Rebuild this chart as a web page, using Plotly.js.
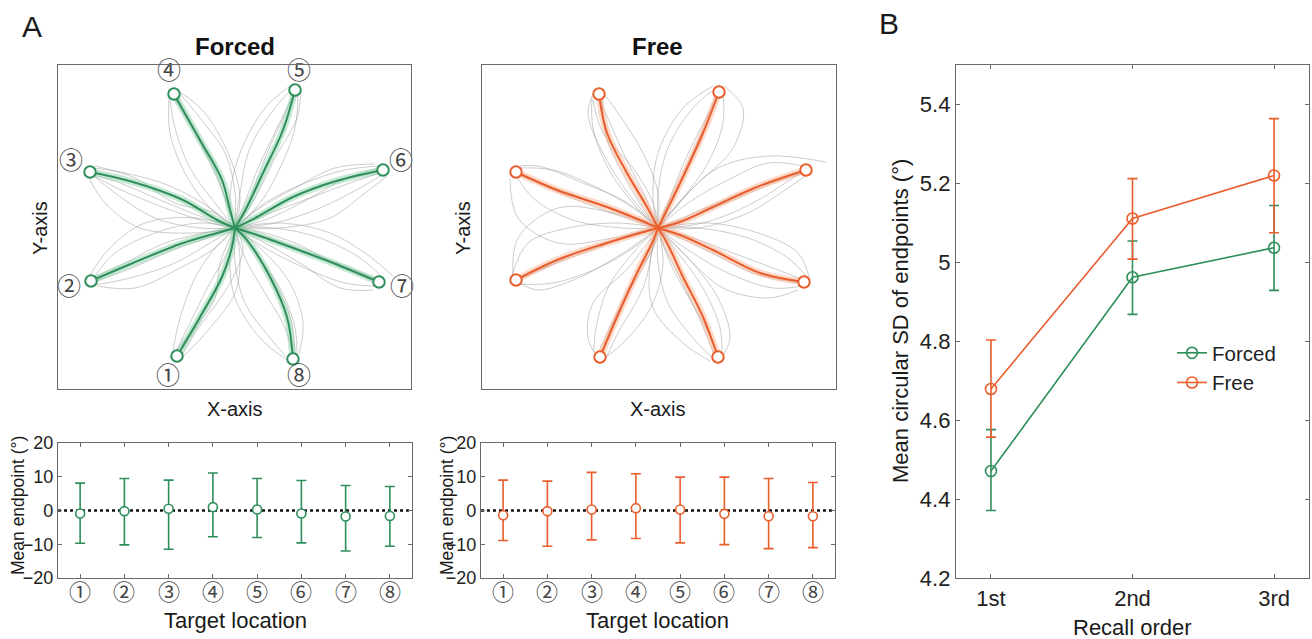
<!DOCTYPE html>
<html>
<head>
<meta charset="utf-8">
<script src="https://cdn.plot.ly/plotly-3.0.1.min.js"></script>
<style>html,body{margin:0;padding:0;background:#fff;}#chart{width:1312px;height:639px;}</style>
</head>
<body>
<div id="chart"></div>
<script>
// ---------------- DATA ----------------
const targetLabels = ['①','②','③','④','⑤','⑥','⑦','⑧'];
const targetsForced = [[-58,-128],[-144,-53],[-145,56],[-61,134],[60,138],[148,58],[144,-54],[58,-131]];
const targetsFree   = [[-58,-129],[-142,-52],[-142,56],[-59,134],[61,136],[148,58],[146,-54],[60,-129]];
const labelPosForced = [[-67,-150],[-166,-61],[-164,65],[-66,155],[64,155],[166,65],[167,-61],[64,-150]];

const meanPathsForced = [
  [[0,0],[-3,-19],[-13,-49],[-35,-89],[-58,-128]],
  [[0,0],[-18,-5],[-52,-15],[-102,-35],[-144,-53]],
  [[0,0],[-18,8],[-52,28],[-102,46],[-145,56]],
  [[0,0],[-5,18],[-13,48],[-35,88],[-61,134]],
  [[0,0],[12,21],[28,55],[48,98],[60,138]],
  [[0,0],[22,11],[58,31],[98,46],[148,58]],
  [[0,0],[22,-7],[58,-20],[98,-35],[144,-54]],
  [[0,0],[12,-12],[35,-49],[52,-89],[58,-131]]
];
const meanPathsFree = [
  [[0,0],[-6,-15],[-21,-45],[-41,-89],[-58,-129]],
  [[0,0],[-18,-5],[-51,-15],[-101,-32],[-142,-52]],
  [[0,0],[-18,8],[-51,21],[-101,38],[-142,56]],
  [[0,0],[-11,21],[-31,55],[-51,95],[-59,134]],
  [[0,0],[9,18],[25,51],[45,95],[61,136]],
  [[0,0],[22,6],[55,21],[99,41],[148,58]],
  [[0,0],[22,-7],[55,-22],[102,-45],[146,-54]],
  [[0,0],[9,-15],[25,-49],[45,-89],[60,-129]]
];

const grayPathsForced = [
  [[0,0],[-8,-25],[-25,-55],[-45,-95],[-60,-125]],
  [[0,0],[5,-30],[0,-65],[-25,-100],[-55,-132]],
  [[0,0],[-20,-20],[-40,-50],[-55,-90],[-62,-122]],
  [[0,0],[8,-20],[-5,-55],[-40,-105],[-52,-126]],
  [[0,0],[-15,-35],[-20,-70],[-40,-100],[-66,-130]],
  [[0,0],[-4,-22],[-18,-58],[-38,-98],[-57,-127]],
  [[0,0],[-30,-5],[-70,-15],[-110,-35],[-142,-50]],
  [[0,0],[-25,-15],[-60,-35],[-105,-50],[-146,-58]],
  [[0,0],[-35,5],[-80,-5],[-120,-25],[-140,-48]],
  [[0,0],[-20,-20],[-55,-40],[-100,-60],[-138,-58]],
  [[0,0],[-40,10],[-90,5],[-125,-20],[-148,-52]],
  [[0,0],[-22,-8],[-62,-22],[-108,-42],[-145,-55]],
  [[0,0],[-30,10],[-75,28],[-115,45],[-145,54]],
  [[0,0],[-35,0],[-80,10],[-120,35],[-148,58]],
  [[0,0],[-25,20],[-65,42],[-110,55],[-142,60]],
  [[0,0],[-40,-5],[-95,0],[-130,25],[-146,50]],
  [[0,0],[-20,15],[-60,25],[-100,50],[-140,62]],
  [[0,0],[-28,6],[-70,20],[-118,40],[-150,57]],
  [[0,0],[-10,30],[-25,65],[-45,105],[-62,132]],
  [[0,0],[-20,25],[-45,60],[-60,100],[-65,128]],
  [[0,0],[0,35],[-10,75],[-35,110],[-58,138]],
  [[0,0],[-25,20],[-50,55],[-65,95],[-66,130]],
  [[0,0],[5,30],[-5,70],[-30,115],[-55,136]],
  [[0,0],[-8,24],[-20,58],[-42,98],[-64,136]],
  [[0,0],[15,30],[30,70],[48,110],[60,136]],
  [[0,0],[5,35],[15,80],[40,120],[58,140]],
  [[0,0],[25,25],[45,60],[60,100],[63,135]],
  [[0,0],[-5,30],[5,75],[30,120],[55,142]],
  [[0,0],[20,30],[40,70],[62,110],[66,138]],
  [[0,0],[10,26],[24,62],[44,104],[62,140]],
  [[0,0],[35,15],[75,30],[115,45],[148,56]],
  [[0,0],[30,25],[70,45],[110,58],[145,62]],
  [[0,0],[40,5],[85,20],[125,40],[150,55]],
  [[0,0],[25,20],[60,40],[100,60],[140,64]],
  [[0,0],[45,0],[95,10],[130,35],[152,52]],
  [[0,0],[30,8],[68,26],[112,50],[146,60]],
  [[0,0],[35,-10],[75,-25],[115,-40],[144,-52]],
  [[0,0],[30,-20],[70,-40],[110,-55],[140,-58]],
  [[0,0],[40,0],[85,-10],[125,-30],[148,-50]],
  [[0,0],[30,-15],[65,-35],[105,-60],[138,-62]],
  [[0,0],[45,5],[95,-5],[130,-25],[158,-48]],
  [[0,0],[26,-4],[62,-16],[104,-38],[146,-56]],
  [[0,0],[10,-30],[30,-65],[50,-100],[58,-128]],
  [[0,0],[20,-25],[45,-60],[60,-100],[62,-130]],
  [[0,0],[0,-35],[10,-75],[35,-110],[56,-134]],
  [[0,0],[25,-20],[55,-55],[68,-95],[64,-126]],
  [[0,0],[-5,-30],[0,-70],[25,-110],[52,-132]],
  [[0,0],[14,-16],[38,-52],[56,-92],[60,-133]]
];
const grayPathsFree = [
  [[0,0],[-10,-30],[-30,-65],[-48,-100],[-60,-126]],
  [[0,0],[5,-35],[-5,-75],[-30,-110],[-56,-132]],
  [[0,0],[-25,-25],[-50,-60],[-62,-100],[-64,-124]],
  [[0,0],[-5,-20],[-15,-60],[-40,-105],[-52,-130]],
  [[0,0],[-30,-40],[-65,-75],[-70,-110],[-60,-130]],
  [[0,0],[-4,-18],[-24,-50],[-44,-92],[-58,-131]],
  [[0,0],[-30,-8],[-70,-20],[-110,-38],[-142,-50]],
  [[0,0],[-25,-20],[-60,-40],[-105,-55],[-140,-56]],
  [[0,0],[-40,5],[-90,0],[-130,-15],[-146,-48]],
  [[0,0],[-35,-25],[-80,-50],[-120,-62],[-138,-55]],
  [[0,0],[-45,15],[-100,20],[-140,-10],[-145,-50]],
  [[0,0],[-20,-4],[-56,-18],[-104,-36],[-144,-54]],
  [[0,0],[-30,12],[-70,28],[-110,42],[-142,54]],
  [[0,0],[-35,0],[-85,8],[-125,30],[-145,58]],
  [[0,0],[-25,20],[-60,40],[-105,58],[-140,60]],
  [[0,0],[-45,-10],[-100,-15],[-140,10],[-148,50]],
  [[0,0],[-30,25],[-75,45],[-120,62],[-138,62]],
  [[0,0],[-20,6],[-55,18],[-100,36],[-146,57]],
  [[0,0],[-12,30],[-30,65],[-48,105],[-60,132]],
  [[0,0],[-25,25],[-50,60],[-65,100],[-66,130]],
  [[0,0],[0,35],[-15,75],[-40,115],[-57,138]],
  [[0,0],[-30,35],[-55,75],[-70,115],[-62,140]],
  [[0,0],[-5,25],[-25,60],[-55,95],[-65,128]],
  [[0,0],[-14,18],[-34,52],[-52,92],[-56,136]],
  [[0,0],[12,30],[28,70],[48,110],[61,134]],
  [[0,0],[0,35],[10,80],[35,120],[58,140]],
  [[0,0],[25,30],[50,65],[65,105],[65,135]],
  [[0,0],[35,40],[75,80],[85,120],[66,142]],
  [[0,0],[-5,30],[0,75],[25,120],[55,142]],
  [[0,0],[6,16],[22,48],[42,92],[60,138]],
  [[0,0],[35,12],[75,28],[115,45],[148,56]],
  [[0,0],[30,25],[70,48],[110,65],[145,62]],
  [[0,0],[40,0],[90,15],[130,40],[150,54]],
  [[0,0],[25,30],[60,60],[110,72],[168,66]],
  [[0,0],[45,5],[95,25],[135,50],[152,60]],
  [[0,0],[20,8],[52,22],[96,40],[146,58]],
  [[0,0],[35,-10],[75,-25],[115,-40],[146,-52]],
  [[0,0],[30,-22],[70,-45],[115,-60],[144,-58]],
  [[0,0],[40,0],[90,-10],[130,-30],[150,-50]],
  [[0,0],[30,-30],[65,-60],[110,-70],[140,-62]],
  [[0,0],[50,5],[100,-5],[140,-25],[152,-52]],
  [[0,0],[20,-9],[52,-24],[98,-46],[148,-56]],
  [[0,0],[10,-30],[28,-65],[48,-100],[60,-127]],
  [[0,0],[20,-25],[45,-60],[62,-100],[64,-128]],
  [[0,0],[0,-35],[10,-75],[35,-110],[57,-132]],
  [[0,0],[30,-30],[60,-70],[72,-110],[62,-132]],
  [[0,0],[-8,-35],[-5,-80],[25,-115],[52,-133]],
  [[0,0],[6,-18],[22,-50],[42,-92],[58,-131]]
];

// Bottom panels: mean endpoint per target location
const targetLocations = [1,2,3,4,5,6,7,8];
const endpointForcedMean  = [-0.9,-0.2,0.5,1.0,0.3,-0.9,-1.8,-1.6];
const endpointForcedUpper = [8.1,9.5,9.0,11.1,9.5,8.9,7.4,7.1];
const endpointForcedLower = [-9.7,-10.2,-11.5,-7.8,-8.0,-9.6,-12.0,-10.6];
const endpointFreeMean  = [-1.4,-0.2,0.3,0.7,0.3,-1.0,-1.7,-1.7];
const endpointFreeUpper = [9.0,8.7,11.3,10.9,9.9,9.9,9.5,8.3];
const endpointFreeLower = [-8.9,-10.6,-8.7,-8.3,-9.6,-10.1,-11.3,-11.0];
const endpointTicks = [-20,-10,0,10,20];

// Panel B
const recallOrder = [1,2,3];
const recallLabels = ['1st','2nd','3rd'];
const sdForced = [4.471,4.962,5.037];
const sdForcedUpper = [4.576,5.054,5.144];
const sdForcedLower = [4.371,4.868,4.929];
const sdFree = [4.679,5.111,5.220];
const sdFreeUpper = [4.803,5.212,5.364];
const sdFreeLower = [4.557,5.008,5.075];
const sdTickVals = [4.2,4.4,4.6,4.8,5.0,5.2,5.4];
const sdTickText = ['4.2','4.4','4.6','4.8','5','5.2','5.4'];

// ---------------- STYLE ----------------
const GREEN = '#2f8f5b';
const ORANGE = '#ea5d2c';
const GREEN_BAND = 'rgba(130,205,160,0.45)';
const ORANGE_BAND = 'rgba(248,170,135,0.45)';
const GRAY = 'rgba(150,150,150,0.55)';
const FONT = 'Liberation Sans, Arial, Helvetica, sans-serif';
const CJK = 'Noto Sans CJK JP, DejaVu Sans, sans-serif';
const AX = '#6a6a6a';
const W = 1312, H = 639;
const px = v => v / W;
const py = v => 1 - v / H;

function flatten(paths) {
  const x = [], y = [];
  paths.forEach(p => { p.forEach(q => { x.push(q[0]); y.push(q[1]); }); x.push(null); y.push(null); });
  return {x, y};
}

const traces = [];
function starPanel(xa, ya, gray, means, targets, col, band) {
  const g = flatten(gray);
  traces.push({type:'scatter', mode:'lines', x:g.x, y:g.y, xaxis:xa, yaxis:ya, showlegend:false, hoverinfo:'skip',
    line:{color:GRAY, width:0.9, shape:'spline', smoothing:1}});
  const m = flatten(means);
  traces.push({type:'scatter', mode:'lines', x:m.x, y:m.y, xaxis:xa, yaxis:ya, showlegend:false, hoverinfo:'skip',
    line:{color:band, width:7, shape:'spline', smoothing:1}});
  traces.push({type:'scatter', mode:'lines', x:m.x, y:m.y, xaxis:xa, yaxis:ya, showlegend:false, hoverinfo:'skip',
    line:{color:col, width:2, shape:'spline', smoothing:1}});
  traces.push({type:'scatter', mode:'markers', x:targets.map(t=>t[0]), y:targets.map(t=>t[1]), xaxis:xa, yaxis:ya,
    showlegend:false, hoverinfo:'skip', cliponaxis:false,
    marker:{symbol:'circle', size:11.5, color:'white', line:{color:col, width:2}}});
}
starPanel('x','y', grayPathsForced, meanPathsForced, targetsForced, GREEN, GREEN_BAND);
starPanel('x2','y2', grayPathsFree, meanPathsFree, targetsFree, ORANGE, ORANGE_BAND);
traces.push({type:'scatter', mode:'text', x:labelPosForced.map(t=>t[0]), y:labelPosForced.map(t=>t[1]),
  text:targetLabels, xaxis:'x', yaxis:'y', showlegend:false, hoverinfo:'skip', cliponaxis:false,
  textfont:{family:CJK, size:24, color:'#444'}});

function endpointPanel(xa, ya, mean, up, lo, col) {
  traces.push({type:'scatter', mode:'markers', x:targetLocations, y:mean, xaxis:xa, yaxis:ya, showlegend:false,
    hoverinfo:'skip',
    error_y:{type:'data', symmetric:false, array:up.map((u,i)=>u-mean[i]), arrayminus:lo.map((l,i)=>mean[i]-l),
      color:col, thickness:1.6, width:5},
    marker:{symbol:'circle', size:9, color:'white', line:{color:col, width:1.6}}});
}
endpointPanel('x3','y3', endpointForcedMean, endpointForcedUpper, endpointForcedLower, GREEN);
endpointPanel('x4','y4', endpointFreeMean, endpointFreeUpper, endpointFreeLower, ORANGE);

function sdTrace(name, y, up, lo, col) {
  traces.push({type:'scatter', mode:'lines+markers', name:name, x:recallOrder, y:y, xaxis:'x5', yaxis:'y5',
    line:{color:col, width:1.6},
    marker:{symbol:'circle-open', size:11, color:col, line:{width:1.6}},
    error_y:{type:'data', symmetric:false, array:up.map((u,i)=>u-y[i]), arrayminus:lo.map((l,i)=>y[i]-l),
      color:col, thickness:1.6, width:5}});
}
sdTrace('Forced', sdForced, sdForcedUpper, sdForcedLower, GREEN);
sdTrace('Free', sdFree, sdFreeUpper, sdFreeLower, ORANGE);

// ---------------- LAYOUT ----------------
const topY = [py(389), py(65)];
const botY = [py(578), py(443)];
function boxAxis(extra) {
  return Object.assign({showline:true, mirror:true, linecolor:AX, linewidth:1.2, showgrid:false, zeroline:false,
    ticks:'', showticklabels:false, fixedrange:true}, extra);
}
function tickAxis(extra) {
  return Object.assign({showline:true, mirror:'ticks', linecolor:AX, linewidth:1.2, showgrid:false, zeroline:false,
    ticks:'inside', ticklen:4, tickcolor:AX, tickwidth:1, fixedrange:true,
    tickfont:{family:FONT, size:18, color:'#222'}}, extra);
}

const layout = {
  width:W, height:H, margin:{l:0,r:0,t:0,b:0}, paper_bgcolor:'white', plot_bgcolor:'white',
  font:{family:FONT, color:'#222'},
  xaxis: boxAxis({domain:[px(58), px(411)], range:[-177,176], anchor:'y'}),
  yaxis: boxAxis({domain:topY, range:[-161,163], anchor:'x'}),
  xaxis2: boxAxis({domain:[px(482), px(836)], range:[-176,178], anchor:'y2'}),
  yaxis2: boxAxis({domain:topY, range:[-161,163], anchor:'x2'}),
  xaxis3: tickAxis({domain:[px(58), px(412)], range:[0.5,8.5], anchor:'y3', tickvals:targetLocations, showticklabels:false}),
  yaxis3: tickAxis({domain:botY, range:[-20,20], anchor:'x3', tickvals:endpointTicks}),
  xaxis4: tickAxis({domain:[px(481), px(835)], range:[0.5,8.5], anchor:'y4', tickvals:targetLocations, showticklabels:false}),
  yaxis4: tickAxis({domain:botY, range:[-20,20], anchor:'x4', tickvals:endpointTicks}),
  xaxis5: tickAxis({domain:[px(956), px(1309)], range:[0.753,3.247], anchor:'y5', tickvals:recallOrder, ticktext:recallLabels,
    tickfont:{family:FONT, size:22, color:'#222'}}),
  yaxis5: tickAxis({domain:[py(578), py(65)], range:[4.2,5.5], anchor:'x5', tickvals:sdTickVals, ticktext:sdTickText,
    tickfont:{family:FONT, size:22, color:'#222'}}),
  shapes:[
    {type:'line', xref:'x3', yref:'y3', x0:0.5, x1:8.5, y0:0, y1:0, layer:'below', line:{color:'#111', width:2.5, dash:'dot'}},
    {type:'line', xref:'x4', yref:'y4', x0:0.5, x1:8.5, y0:0, y1:0, layer:'below', line:{color:'#111', width:2.5, dash:'dot'}}
  ],
  legend:{x:px(1172), y:py(333), xanchor:'left', yanchor:'top', bgcolor:'rgba(0,0,0,0)',
    font:{family:FONT, size:20.5, color:'#222'}, tracegroupgap:0},
  annotations:[]
};
function ann(text, x, y, size, opts) {
  layout.annotations.push(Object.assign({text:text, xref:'paper', yref:'paper', x:px(x), y:py(y),
    xanchor:'center', yanchor:'middle', showarrow:false, font:{family:FONT, size:size, color:'#1a1a1a'}}, opts||{}));
}
ann('A', 32, 26, 30);
ann('B', 889, 24, 30);
ann('Forced', 235, 47, 24, {font:{family:FONT, size:24, color:'#111', weight:'bold'}});
ann('Free', 658, 47, 24, {font:{family:FONT, size:24, color:'#111', weight:'bold'}});
ann('X-axis', 235, 409, 20);
ann('X-axis', 658, 409, 20);
ann('Y-axis', 40, 228, 20, {textangle:-90});
ann('Y-axis', 463, 228, 20, {textangle:-90});
ann('Mean endpoint (°)', 18, 506, 17.5, {textangle:-90});
ann('Mean endpoint (°)', 447, 506, 17.5, {textangle:-90});
ann('Target location', 235, 620, 22);
ann('Target location', 658, 620, 22);
ann('Mean circular SD of endpoints (°)', 900, 321, 22, {textangle:-90});
ann('Recall order', 1132, 627, 22);

// circled-digit category labels under the bottom panels (x from data, y just below the axis)
['x3','x4'].forEach(xa => {
  targetLocations.forEach((loc, i) => {
    layout.annotations.push({text:targetLabels[i], xref:xa, yref:'paper', x:loc, y:py(590),
      xanchor:'center', yanchor:'middle', showarrow:false, font:{family:CJK, size:22, color:'#444'}});
  });
});

Plotly.newPlot('chart', traces, layout, {displayModeBar:false, staticPlot:true});
</script>
</body>
</html>
